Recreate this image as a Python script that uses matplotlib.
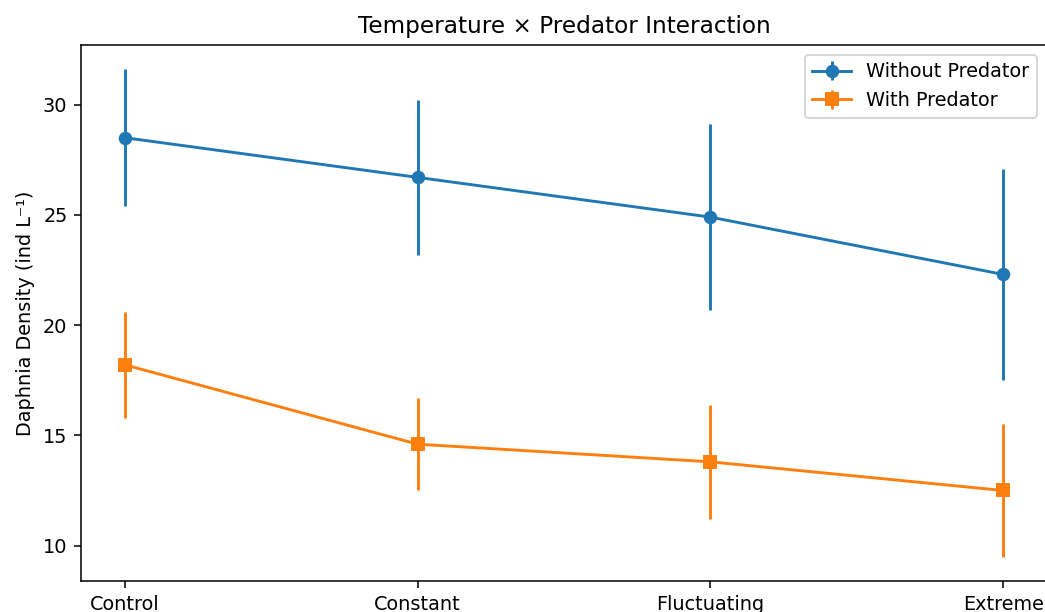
import matplotlib
matplotlib.use('Agg')
import matplotlib.pyplot as plt
import numpy as np

treatments = ['Control', 'Constant', 'Fluctuating', 'Extreme']
no_pred_mean = [28.5, 26.7, 24.9, 22.3]
no_pred_err = [3.1, 3.5, 4.2, 4.8]
pred_mean = [18.2, 14.6, 13.8, 12.5]
pred_err = [2.4, 2.1, 2.6, 3.0]

x = np.arange(len(treatments))

# reference looks rendered at ~139 dpi and cropped on the right/bottom
DPI = 139
fig = plt.figure(figsize=(1045/DPI, 612/DPI), dpi=DPI)
ax = fig.add_axes([81/1045, 31/612, 966/1045, 536/612])

ax.errorbar(x, no_pred_mean, yerr=no_pred_err, marker='o',
            label='Without Predator')
ax.errorbar(x, pred_mean, yerr=pred_err, marker='s',
            label='With Predator')

ax.set_xticks(x)
ax.set_xticklabels(treatments)
ax.set_ylabel('Daphnia Density (ind L⁻¹)')
ax.set_title('Temperature × Predator Interaction')
ax.legend(loc='upper right')

fig.savefig('out.png', dpi=DPI)
